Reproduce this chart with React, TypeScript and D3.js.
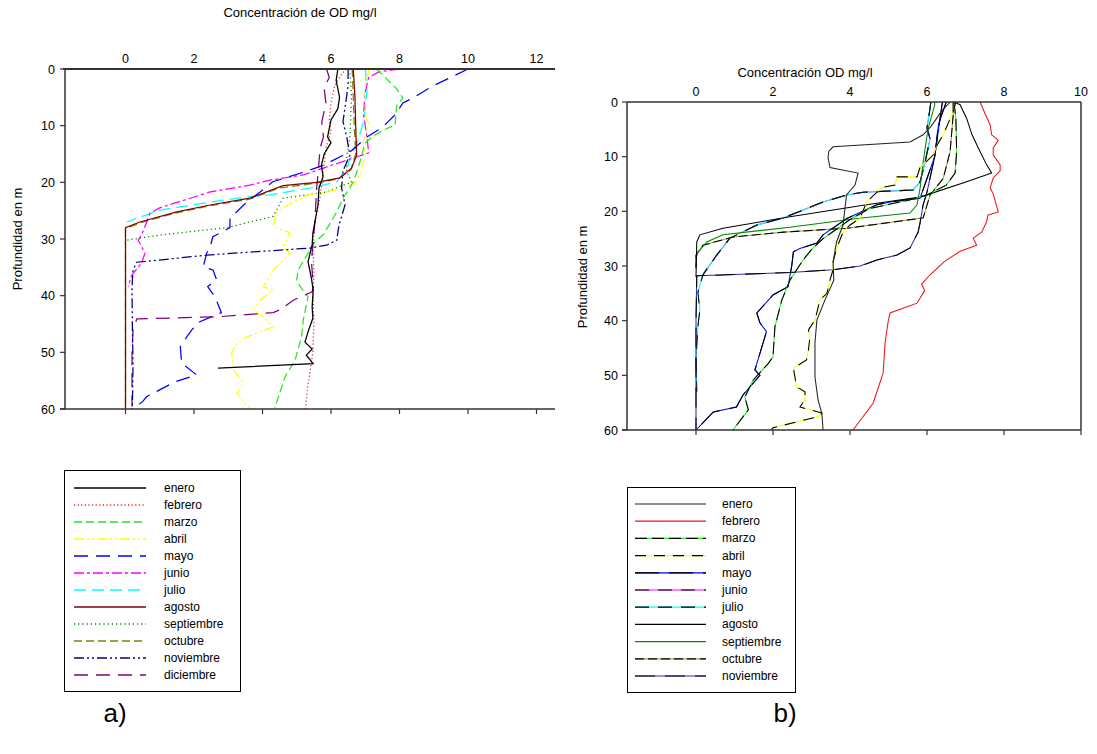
import React from 'react';
import * as d3 from 'd3';

type P = [number, number]; // [OD mg/l, profundidad m]

const depthTicks = [0, 10, 20, 30, 40, 50, 60];
const aTicks = [0, 2, 4, 6, 8, 10, 12];
const bTicks = [0, 2, 4, 6, 8, 10];

// ---------- Panel a) ----------
const aEnero: P[] = [[6.2,0],[6.15,2],[6.25,5],[6.2,7],[6.0,9],[5.9,12],[6.0,13],[5.8,15],[5.72,17],[5.77,19],[5.65,21],[5.62,24],[5.53,27],[5.47,29],[5.45,31],[5.33,34],[5.43,37],[5.48,39],[5.45,42],[5.47,44],[5.35,46],[5.24,48.2],[5.45,49.4],[5.28,50.5],[5.48,52],[2.7,52.8]];
const aFebrero: P[] = [[6.45,0],[6.3,1],[6.1,3],[6.0,6],[5.95,9],[6.0,11],[5.85,14],[5.8,17],[5.75,19],[5.7,22],[5.6,25],[5.5,28],[5.48,32],[5.5,36],[5.48,40],[5.5,45],[5.47,50],[5.4,53],[5.32,56],[5.25,60]];
const aMarzo: P[] = [[7.33,0],[7.5,1],[7.9,3.4],[8.1,5.1],[7.92,6.4],[7.87,9.9],[7.52,10.8],[7.19,12],[6.99,13.1],[6.9,15.2],[6.79,17.5],[6.65,19.9],[6.55,21],[6.35,22.8],[6.17,25.2],[5.9,28],[5.77,29.3],[5.53,30.5],[5.33,32.5],[5.04,35.5],[5.0,37.2],[5.1,38.4],[5.33,40.2],[5.19,44.3],[5.14,47.3],[4.95,51.4],[4.66,54.3],[4.37,59.6],[4.35,60]];
const aAbril: P[] = [[7.1,0],[7.0,3.3],[6.99,8],[7.09,9.5],[6.94,12.9],[7.0,15.2],[6.9,17.5],[6.75,19.9],[6.36,21],[5.87,21.7],[5.33,22.2],[4.9,23.5],[4.41,25.2],[4.31,27.8],[4.8,28.9],[4.6,31.4],[4.8,32.5],[4.31,35.5],[4.02,38.4],[4.31,39],[3.93,40.8],[3.73,42.5],[4.02,43.7],[4.31,45.5],[3.54,47.3],[3.25,48.4],[3.1,50.1],[3.15,53.1],[3.44,55.4],[3.25,57.2],[3.63,60]];
const aMayo: P[] = [[10.0,0],[8.94,3.1],[8.4,5.1],[8.1,6],[7.87,8.1],[7.52,10.2],[7.05,12],[6.56,14.6],[5.77,17],[5.1,18.4],[4.3,19.9],[3.93,21.7],[3.54,23.5],[3.25,25.2],[3.05,26.3],[3.05,28],[2.55,29.6],[2.47,31.4],[2.37,32.5],[2.27,34.9],[2.56,35.5],[2.66,37.2],[2.4,38.4],[2.61,40.2],[2.8,43],[2.17,44.6],[1.94,46],[1.8,47.2],[1.6,49],[1.64,51.9],[2.08,54],[1.45,55.2],[0.62,57.8],[0.5,58.7],[0.2,60]];
const aJunio: P[] = [[8.0,0],[7.4,0.5],[7.1,1.5],[7.0,4],[6.95,8],[7.05,12],[7.1,14.8],[5.77,17.5],[5.19,18.7],[4.22,19.6],[3.63,20.5],[2.47,21.7],[1.0,24.5],[0.72,25.4],[0.47,29.3],[0.37,30.2],[0.57,32.5],[0.47,34.2],[0.18,36.4],[0.08,38.4]];
const aJulio: P[] = [[7.0,0],[7.05,4],[6.95,9.3],[6.78,12.8],[6.6,15.2],[6.46,17.5],[6.17,19.9],[5.39,21],[4.22,22.2],[3.6,22.5],[2.47,23.5],[1.0,24.9],[0.04,27]];
const aAgosto: P[] = [[6.65,0],[6.7,5],[6.72,10],[6.75,15.2],[6.6,17.5],[6.26,19.2],[5.58,20],[4.6,20.6],[3.63,22.8],[2.47,24],[1.5,25.2],[0.42,27],[0,28],[0,60]];
const aSeptiembre: P[] = [[6.55,0],[6.6,5],[6.55,12.2],[6.46,15.2],[6.46,18],[6.6,20],[6.35,20.5],[5.87,21.7],[5.3,22.2],[4.6,22.8],[4.31,26],[3.63,27],[2.96,28],[1.0,29.3],[0.04,30.2]];
const aOctubre: P[] = [[6.62,0],[6.68,10],[6.72,15],[6.58,17.8],[6.2,19.4],[5.5,20.2],[4.5,21],[3.6,23],[2.4,24.2],[1.4,25.5],[0.4,27.2],[0,28.2],[0,60]];
const aNoviembre: P[] = [[6.5,0],[6.5,3],[6.35,9.3],[6.46,12],[6.55,15.2],[6.35,18],[6.31,21],[6.41,24],[6.26,27],[6.21,28.4],[6.17,30.2],[5.87,31.1],[5.38,31.6],[2.47,32.8],[0.33,34.1],[0.22,35.5],[0.19,38.4],[0.2,45],[0.22,52],[0.2,60]];
const aDiciembre: P[] = [[5.87,0],[5.95,1.5],[5.8,3.3],[5.85,6],[5.73,9.4],[5.78,12],[5.68,14],[5.63,18],[5.58,21],[5.53,27],[5.43,33.9],[5.48,38.4],[5.45,39.3],[4.9,40.8],[4.51,42.5],[4.31,43],[2.76,43.7],[0.33,44.1],[0.22,46],[0.19,50],[0.19,59.6]];

// ---------- Panel b) ----------
const bEnero: P[] = [[6.6,0],[6.4,1.5],[6.25,3],[6.1,4.5],[5.9,6],[5.56,7.3],[3.56,8.2],[3.45,9],[3.43,10.2],[3.48,12],[4.21,13],[4.13,15.2],[3.91,17],[3.87,19.4],[3.82,22.5],[3.65,25.6],[3.56,29.3],[3.58,32.6],[3.35,36.2],[3.14,39.9],[3.09,44.1],[3.09,50.3],[3.17,54.5],[3.27,57],[3.3,60]];
const bFebrero: P[] = [[7.38,0],[7.5,2],[7.64,4.2],[7.68,6],[7.85,7],[7.72,8.4],[7.72,9.7],[7.9,11.5],[7.9,12.6],[7.72,13.9],[7.64,15.7],[7.72,16.8],[7.85,20.1],[7.58,20.7],[7.55,21.9],[7.42,23.8],[7.2,24.9],[7.29,26.2],[6.86,27.3],[6.45,29.2],[6.08,31.6],[5.86,33.3],[5.94,34.5],[5.74,36.8],[5.04,38.6],[4.99,40.2],[4.91,44.1],[4.86,49.6],[4.6,55.1],[4.08,60]];
const bMarzo: P[] = [[6.7,0],[6.75,3],[6.77,9],[6.73,13],[6.5,15.2],[6.0,17],[5.5,18],[4.5,19.5],[4.0,21.5],[3.6,23.5],[3.3,25],[3.0,27],[2.78,28.9],[2.44,32.6],[2.23,36.2],[2.05,41.1],[2.0,46.6],[1.88,47.8],[1.48,50.9],[1.27,54],[1.36,56.3],[0.96,60]];
const bAbril: P[] = [[6.75,0],[6.68,1.8],[6.42,6],[6.26,7.9],[6.16,9.7],[5.82,12],[5.74,13.7],[5.22,13.7],[5.17,15.2],[4.86,15.6],[4.7,16.5],[4.43,18.3],[4.26,21.3],[4.0,22.5],[3.82,23.8],[3.65,26.8],[3.56,29.3],[3.56,30.7],[3.48,32.6],[3.4,35],[3.22,36.2],[3.09,39.9],[2.92,41.7],[2.96,42.9],[2.92,45.4],[2.87,47.2],[2.53,48.7],[2.57,50.3],[2.61,52.1],[2.83,53],[2.83,54.5],[2.7,55.8],[3.27,56.9],[3.2,57.5],[2.0,59.6],[1.95,60]];
const bMayo: P[] = [[6.4,0],[6.3,5],[6.2,10],[6.0,14],[5.82,17.6],[5.04,18.3],[4.7,18.8],[3.92,21.3],[3.3,24.3],[3.14,25.8],[2.7,26.8],[2.53,27.4],[2.49,29.8],[2.39,33.8],[2.0,35.3],[1.58,38.6],[1.66,40.4],[1.83,42],[1.66,46],[1.53,49],[1.66,50],[1.22,53.6],[1.05,55.8],[0.45,56.7],[0,60]];
const bJunio: P[] = [[6.1,0],[6.08,1.1],[6.0,4.8],[6.08,6.7],[5.95,11],[5.82,14.6],[5.64,16.1],[4.34,16.5],[3.92,17],[3.3,18.3],[2.27,21.2],[1.58,22.5],[0.88,24.9],[0.54,28],[0.18,31.6]];
const bJulio: P[] = [[6.1,0],[6.08,1.1],[6.0,4.8],[6.08,6.7],[5.95,11],[5.82,14.6],[5.64,16.1],[4.34,16.5],[3.92,17],[3.3,18.3],[2.27,21.2],[1.58,22.5],[0.88,24.9],[0.54,28],[0.18,31.6],[0.05,34.8],[0.1,38],[0.05,41],[0,47],[0.02,53]];
const bAgosto: P[] = [[6.7,0],[6.86,0.5],[7.03,3],[7.17,6],[7.38,9.1],[7.55,11.5],[7.68,13],[7.03,14.6],[5.82,17.4],[4.43,18.8],[2.44,21],[0.7,23.1],[0.1,24.3],[0.02,25.6],[0,32]];
const bSeptiembre: P[] = [[6.2,0],[6.2,0.6],[6.03,4.8],[5.9,11],[5.82,15.8],[5.74,18.8],[5.56,20.3],[4.18,21.3],[2.44,22.9],[0.7,24.3],[0.28,25.6],[0.05,27.5],[0,28.5],[0,30]];
const bOctubre: P[] = [[6.68,0],[6.68,2.4],[6.6,9.1],[6.42,14],[6.08,17],[5.9,21.2],[3.92,23.1],[2.27,23.8],[0.96,24.7],[0.18,26.2],[0,28],[0,30.4]];
const bNoviembre: P[] = [[6.5,0],[6.3,4],[6.2,10],[6.0,16.5],[5.9,18.8],[5.82,22.1],[5.77,23.8],[5.56,26.7],[5.22,28],[4.7,28.9],[4.26,30],[3.56,30.7],[2.44,31.2],[0.02,31.8],[0,40],[0,60]];

type ASeries = { name: string; data: P[]; color: string; dash?: string };
const aSeries: ASeries[] = [
  { name: 'enero', data: aEnero, color: '#000000' },
  { name: 'febrero', data: aFebrero, color: '#ff2020', dash: '1.2,2.4' },
  { name: 'marzo', data: aMarzo, color: '#22e822', dash: '8,4' },
  { name: 'abril', data: aAbril, color: '#ffff00', dash: '10,3,2,3,2,3' },
  { name: 'mayo', data: aMayo, color: '#0000ff', dash: '14,8' },
  { name: 'junio', data: aJunio, color: '#ff00ff', dash: '10,3,3,3' },
  { name: 'julio', data: aJulio, color: '#00ffff', dash: '12,6' },
  { name: 'agosto', data: aAgosto, color: '#800000' },
  { name: 'septiembre', data: aSeptiembre, color: '#008000', dash: '1.2,3' },
  { name: 'octubre', data: aOctubre, color: '#808000', dash: '8,4' },
  { name: 'noviembre', data: aNoviembre, color: '#000080', dash: '10,3,2,3,2,3' },
  { name: 'diciembre', data: aDiciembre, color: '#800080', dash: '14,8' },
];
const aDrawOrder = ['octubre','febrero','septiembre','julio','junio','abril','marzo','mayo','diciembre','noviembre','enero','agosto'];

type BSeries = { name: string; data: P[]; base: string; over?: string; dash?: string };
const bSeries: BSeries[] = [
  { name: 'enero', data: bEnero, base: '#222222' },
  { name: 'febrero', data: bFebrero, base: '#e81818' },
  { name: 'marzo', data: bMarzo, base: '#22ee22', over: '#000000', dash: '12,5' },
  { name: 'abril', data: bAbril, base: '#ffff00', over: '#000000', dash: '11,8' },
  { name: 'mayo', data: bMayo, base: '#0000ff', over: '#000000', dash: '24,10' },
  { name: 'junio', data: bJunio, base: '#ff00ff', over: '#000000', dash: '14,9' },
  { name: 'julio', data: bJulio, base: '#00ffff', over: '#000000', dash: '14,9' },
  { name: 'agosto', data: bAgosto, base: '#000000' },
  { name: 'septiembre', data: bSeptiembre, base: '#008800' },
  { name: 'octubre', data: bOctubre, base: '#a0a040', over: '#000000', dash: '9,4' },
  { name: 'noviembre', data: bNoviembre, base: '#3030b0', over: '#000000', dash: '20,10' },
];
const bDrawOrder = ['junio','julio','octubre','septiembre','noviembre','agosto','mayo','marzo','abril','enero','febrero'];

const FONT = 'Liberation Sans, Arial, sans-serif';
const AX = '#333';

export default function App() {
  const xa = d3.scaleLinear().domain([0, 12]).range([125.5, 536.5]);
  const ya = d3.scaleLinear().domain([0, 60]).range([69, 409]);
  const xb = d3.scaleLinear().domain([0, 10]).range([696, 1081]);
  const yb = d3.scaleLinear().domain([0, 60]).range([102, 430]);

  const la = d3.line<P>().x(d => xa(d[0])).y(d => ya(d[1]));
  const lb = d3.line<P>().x(d => xb(d[0])).y(d => yb(d[1]));

  const aLeft = 65, aRight = 555;
  const bLeft = 627, bRight = 1081;

  return (
    <svg width={1097} height={754} style={{ position: 'absolute', left: 0, top: 0, background: '#fff' }} fontFamily={FONT}>
      {/* ---------- Panel a ---------- */}
      <text x={300} y={17} fontSize={13} textAnchor="middle">Concentración de OD mg/l</text>
      <text transform={`translate(22,${ya(30)}) rotate(-90)`} fontSize={13} textAnchor="middle">Profundidad en m</text>
      {aDrawOrder.map(n => {
        const s = aSeries.find(q => q.name === n)!;
        return <path key={n} d={la(s.data) || ''} fill="none" stroke={s.color} strokeWidth={1.25} strokeDasharray={s.dash} />;
      })}
      <line x1={63} x2={aRight} y1={ya(0)} y2={ya(0)} stroke={AX} strokeWidth={2} />
      <line x1={60} x2={aRight} y1={ya(60)} y2={ya(60)} stroke={AX} strokeWidth={1.5} />
      <line x1={aLeft} x2={aLeft} y1={ya(0)} y2={ya(60)} stroke={AX} strokeWidth={1.5} />
      {depthTicks.map(t => (
        <g key={'ay' + t}>
          <line x1={aLeft - 5} x2={aLeft} y1={ya(t)} y2={ya(t)} stroke={AX} strokeWidth={1.2} />
          <text x={aLeft - 10} y={ya(t) + 4.5} fontSize={12.5} textAnchor="end">{t}</text>
        </g>
      ))}
      {aTicks.map(t => (
        <g key={'ax' + t}>
          <line x1={xa(t)} x2={xa(t)} y1={ya(60)} y2={ya(60) + 5} stroke={AX} strokeWidth={1.2} />
          <text x={xa(t)} y={ya(0) - 6} fontSize={12.5} textAnchor="middle">{t}</text>
        </g>
      ))}
      <rect x={64.5} y={470.5} width={176} height={221} fill="#fff" stroke="#000" strokeWidth={1} />
      {aSeries.map((s, i) => {
        const yy = 488 + i * 17.0;
        return (
          <g key={'la' + s.name}>
            <line x1={74} x2={146} y1={yy} y2={yy} stroke={s.color} strokeWidth={1.3} strokeDasharray={s.dash} />
            <text x={164} y={yy + 4} fontSize={12}>{s.name}</text>
          </g>
        );
      })}
      <text x={115} y={722} fontSize={26} textAnchor="middle">a)</text>

      {/* ---------- Panel b ---------- */}
      <text x={805} y={77} fontSize={13} textAnchor="middle">Concentración OD mg/l</text>
      <text transform={`translate(587,${yb(32)}) rotate(-90)`} fontSize={13} textAnchor="middle">Profundidad en m</text>
      {bDrawOrder.map(n => {
        const s = bSeries.find(q => q.name === n)!;
        const d = lb(s.data) || '';
        return (
          <g key={n}>
            <path d={d} fill="none" stroke={s.base} strokeWidth={1.05} />
            {s.over && <path d={d} fill="none" stroke={s.over} strokeWidth={1.05} strokeDasharray={s.dash} />}
          </g>
        );
      })}
      <line x1={bLeft} x2={bRight} y1={yb(0)} y2={yb(0)} stroke={AX} strokeWidth={1.5} />
      <line x1={622} x2={bRight} y1={yb(60)} y2={yb(60)} stroke={AX} strokeWidth={1.5} />
      <line x1={bLeft} x2={bLeft} y1={yb(0)} y2={yb(60)} stroke={AX} strokeWidth={1.5} />
      <line x1={bRight} x2={bRight} y1={yb(0)} y2={yb(60)} stroke={AX} strokeWidth={1.5} />
      {depthTicks.map(t => (
        <g key={'by' + t}>
          <line x1={bLeft - 5} x2={bLeft} y1={yb(t)} y2={yb(t)} stroke={AX} strokeWidth={1.2} />
          <text x={bLeft - 9} y={yb(t) + 4.5} fontSize={12.5} textAnchor="end">{t}</text>
        </g>
      ))}
      {bTicks.map(t => (
        <g key={'bx' + t}>
          <line x1={xb(t)} x2={xb(t)} y1={yb(60)} y2={yb(60) + 5} stroke={AX} strokeWidth={1.2} />
          <text x={xb(t)} y={yb(0) - 6} fontSize={12.5} textAnchor="middle">{t}</text>
        </g>
      ))}
      <rect x={627.5} y={487.5} width={168} height={205} fill="#fff" stroke="#000" strokeWidth={1} />
      {bSeries.map((s, i) => {
        const yy = 504 + i * 17.2;
        return (
          <g key={'lb' + s.name}>
            <line x1={635} x2={706} y1={yy} y2={yy} stroke={s.base} strokeWidth={1.2} />
            {s.over && <line x1={635} x2={706} y1={yy} y2={yy} stroke={s.over} strokeWidth={1.2} strokeDasharray={s.dash} />}
            <text x={722} y={yy + 4} fontSize={12}>{s.name}</text>
          </g>
        );
      })}
      <text x={785} y={722} fontSize={26} textAnchor="middle">b)</text>
    </svg>
  );
}
